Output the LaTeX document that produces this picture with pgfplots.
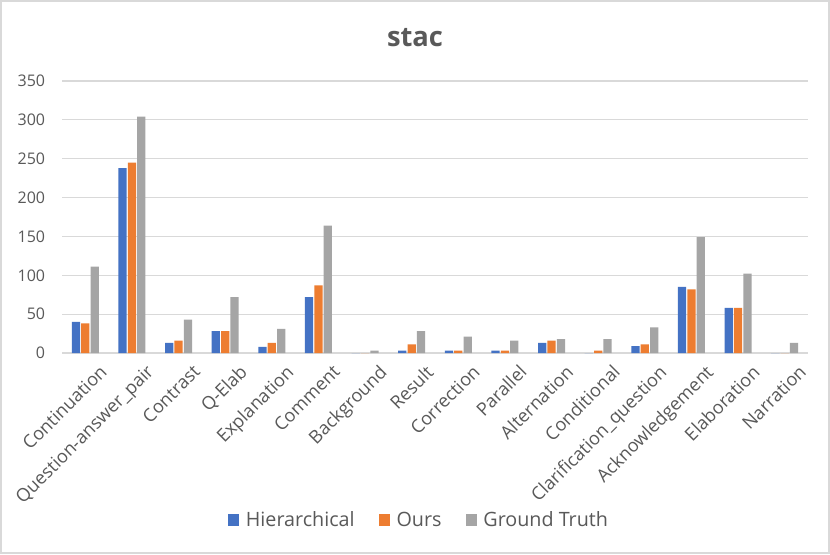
\documentclass[border=0pt]{standalone}
\usepackage{fontspec}
\setmainfont{Open Sans}
\usepackage{pgfplots}
\pgfplotsset{compat=1.18}
\definecolor{cblue}{HTML}{4472C4}
\definecolor{corange}{HTML}{ED7D31}
\definecolor{cgray}{HTML}{A5A5A5}
\definecolor{ctext}{HTML}{595959}
\definecolor{cgrid}{HTML}{D9D9D9}
\pgfplotstableread{
x hier ours gt
0 40 38 111
1 238 245 304
2 13 16 43
3 28 28 72
4 8 13 31
5 72 87 164
6 0 0 3
7 3 11 28
8 3 3 21
9 3 3 16
10 13 16 18
11 0 3 18
12 9 11 33
13 85 82 149
14 58 58 102
15 0 0 13
}\datatable
\begin{document}
\begin{tikzpicture}
\useasboundingbox (0,0) rectangle (622.5pt,415.5pt);
\fill[white] (0,0) rectangle (622.5pt,415.5pt);
\draw[cgrid, line width=1.2pt] (0.6pt,0.6pt) rectangle (621.9pt,414.9pt);
\node[text=ctext, font=\fontsize{20.5}{24}\selectfont\bfseries] at (311.25pt,387pt) {stac};
\begin{axis}[
  at={(46.5pt,150.75pt)}, anchor=south west,
  scale only axis, width=559.5pt, height=204pt,
  ybar=0.8pt, bar width=6.2pt,
  ymin=0, ymax=350, ytick={0,50,...,350},
  xmin=-0.5, xmax=15.5, xtick={0,...,15},
  xticklabels={Continuation,Question-answer\_pair,Contrast,Q-Elab,Explanation,Comment,Background,Result,Correction,Parallel,Alternation,Conditional,Clarification\_question,Acknowledgement,Elaboration,Narration},
  xticklabel style={rotate=45, anchor=north east, inner sep=0pt, xshift=1.5pt, yshift=-12.5pt, font=\fontsize{13.6}{15}\selectfont, text=ctext},
  yticklabel style={anchor=east, inner sep=0pt, xshift=-12.5pt, font=\fontsize{12}{14}\selectfont, text=ctext},
  /pgf/number format/assume math mode=true,
  axis line style={draw=none},
  major tick length=0pt,
  ymajorgrids, grid style={cgrid, line width=0.9pt},
  legend style={at={(0.479,-0.614)}, anchor=center, draw=none, legend columns=3,
    font=\fontsize{14.8}{17}\selectfont, text=ctext,
    /tikz/every odd column/.append style={column sep=3pt},
    /tikz/every even column/.append style={column sep=16pt}},
  legend image code/.code={\fill[#1] (0pt,-4.6pt) rectangle (8.4pt,4.6pt);},
]
\addplot[fill=cblue, draw=none] table[x=x, y=hier] {\datatable};
\addplot[fill=corange, draw=none] table[x=x, y=ours] {\datatable};
\addplot[fill=cgray, draw=none] table[x=x, y=gt] {\datatable};
\legend{Hierarchical,Ours,Ground Truth}
\end{axis}
\end{tikzpicture}
\end{document}
